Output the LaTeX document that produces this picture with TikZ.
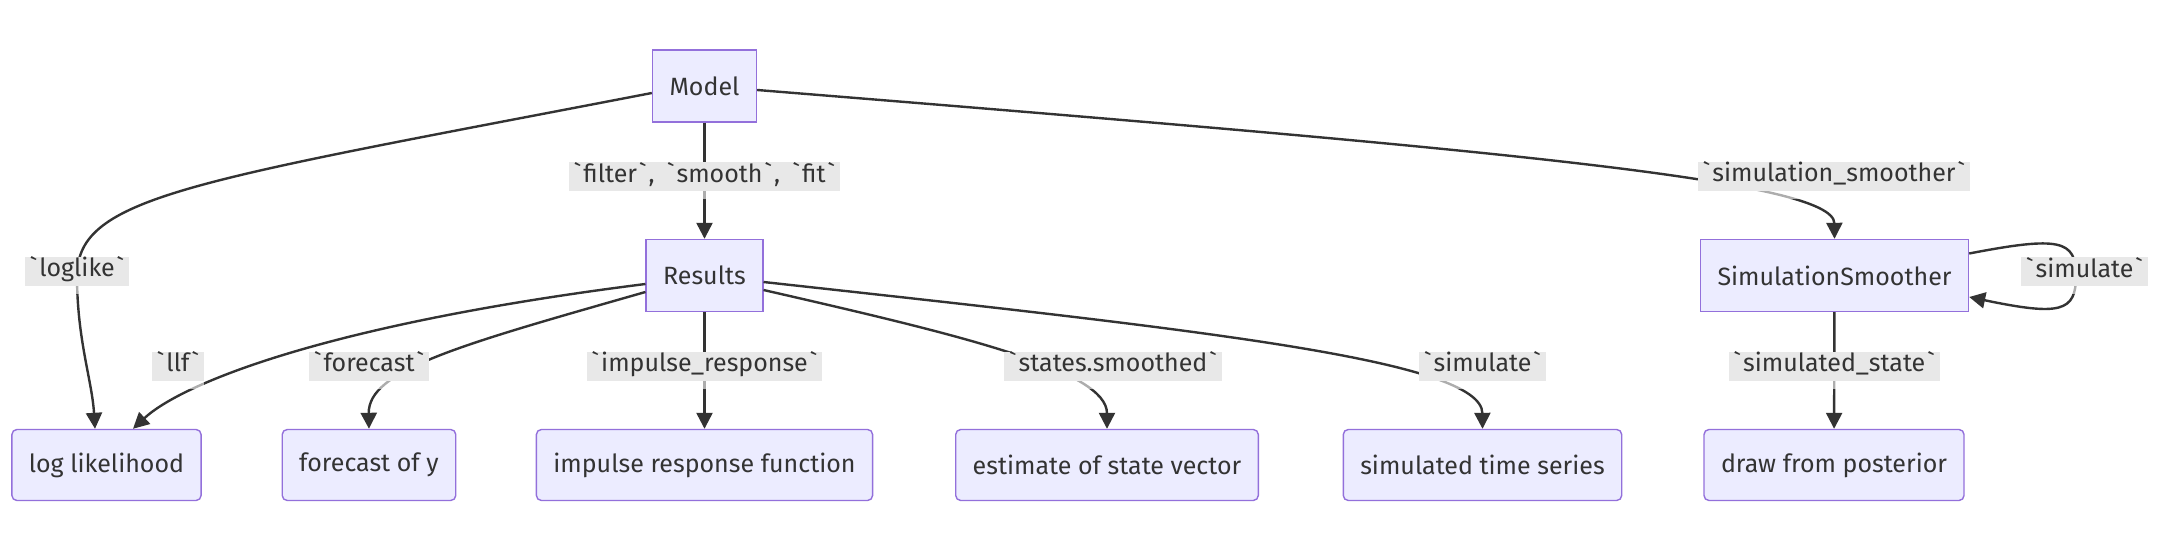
\documentclass[tikz,border=0pt]{standalone}
\usepackage{fontspec}
\newfontfamily\mmfont{Fira Sans}[Ligatures=TeXOff]
\usetikzlibrary{arrows.meta}
\definecolor{boxfill}{HTML}{ECECFF}
\definecolor{boxline}{HTML}{9370DB}
\definecolor{edgegray}{HTML}{333333}
\definecolor{lblgray}{HTML}{E8E8E8}
\newcommand{\bt}{\kern1pt\textasciigrave\kern1pt}
\newcommand{\cd}[1]{\bt#1\bt}

\begin{document}
\begin{tikzpicture}[x=0.5pt, y=-0.5pt, >={Triangle[length=8pt,width=8pt]},
  every node/.style={font=\mmfont\fontsize{12.5}{15}\selectfont, text=edgegray},
  cls/.style={draw=boxline, line width=0.7pt, fill=boxfill, minimum height=36pt, inner xsep=8.5pt},
  leaf/.style={cls, rounded corners=2.5pt, minimum height=35.5pt},
  lbl/.style={fill=white, fill opacity=0.6, text opacity=1, inner xsep=1.5pt, inner ysep=0pt,
    text height=10pt, text depth=8.5pt,
    path picture={\fill[lblgray, fill opacity=1] (path picture bounding box.north west) rectangle ([yshift=4pt]path picture bounding box.south east);}},
  link/.style={->, draw=edgegray, line width=1.2pt}
]
\useasboundingbox (0,0) rectangle (2160,550);

% Classes
\node[cls] (model) at (704.5,86) {Model};
\node[cls] (results) at (704.5,275.5) {Results};
\node[cls] (simsm) at (1834.5,275.5) {SimulationSmoother};

% Outputs
\node[leaf] (loglik) at (106.5,465) {log likelihood};
\node[leaf] (fcast) at (369,465) {forecast of y};
\node[leaf] (irf) at (704.5,465) {impulse response function};
\node[leaf] (stvec) at (1107,465) {estimate of state vector};
\node[leaf] (simts) at (1482.5,465) {simulated time series};
\node[leaf] (post) at (1834,465) {draw from posterior};

% Model
\draw[link] (model) -- node[lbl] {\cd{filter},\kern2pt\ \cd{smooth},\kern2pt\ \cd{fit}} (results);
\draw[link] ([yshift=-3.5pt]model.west) .. controls (190,182) and (78,196) .. (77,275.5) node[lbl] {\cd{loglike}}
  .. controls (77,340) and (92,380) .. ([xshift=-5.75pt]loglik.north);
\draw[link] ([yshift=-2pt]model.east) .. controls (1500,150) and (1834,180) .. (simsm.north)
  node[lbl] at (1834,180.5) {\cd{simulation\_smoother}};

% Results
\draw[link] ([yshift=-4.25pt]results.west) .. controls (320,325) and (180,385) .. ([xshift=13.25pt]loglik.north)
  node[lbl] at (178,370.5) {\cd{llf}};
\draw[link] ([yshift=-8.25pt]results.west) .. controls (460,345) and (368,370) .. (fcast.north)
  node[lbl] at (369,370.5) {\cd{forecast}};
\draw[link] (results) -- node[lbl] {\cd{impulse\_response}} (irf);
\draw[link] ([yshift=-7.25pt]results.east) .. controls (960,335) and (1107,370) .. (stvec.north)
  node[lbl] at (1113,370.5) {\cd{states.smoothed}};
\draw[link] ([yshift=-3.25pt]results.east) .. controls (1200,330) and (1482,360) .. (simts.north)
  node[lbl] at (1482.5,370.5) {\cd{simulate}};

% SimulationSmoother
\draw[link] (simsm) -- node[lbl] {\cd{simulated\_state}} (post);
\draw[link] ([yshift=11pt]simsm.east) .. controls (2060,236) and (2076,240) .. (2076,276)
  node[lbl] at (2084.5,276) {\cd{simulate}}
  .. controls (2076,312) and (2060,316) .. ([yshift=-10.75pt]simsm.east);

\end{tikzpicture}
\end{document}
